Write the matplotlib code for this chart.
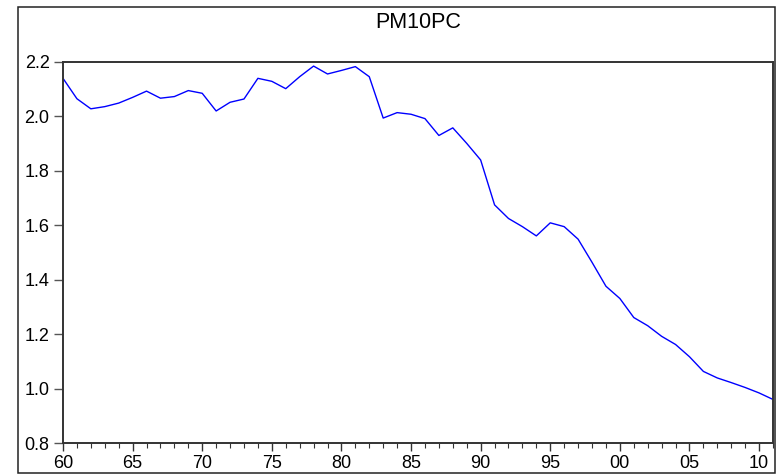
import matplotlib
matplotlib.use("Agg")
import matplotlib.pyplot as plt
from matplotlib.patches import Rectangle
from matplotlib.ticker import MultipleLocator, FixedLocator

plt.rcParams['font.family'] = ['Liberation Sans', 'DejaVu Sans']

years = list(range(1960, 2012))
pm10pc = [2.140, 2.065, 2.028, 2.036, 2.049, 2.070, 2.093, 2.067, 2.073, 2.095,
          2.085, 2.020, 2.052, 2.064, 2.140, 2.129, 2.102, 2.146, 2.185, 2.156,
          2.169, 2.183, 2.146, 1.994, 2.014, 2.008, 1.992, 1.930, 1.958, 1.901,
          1.840, 1.675, 1.625, 1.595, 1.561, 1.609, 1.595, 1.549, 1.464, 1.376,
          1.331, 1.261, 1.231, 1.192, 1.162, 1.117, 1.063, 1.039, 1.022, 1.004,
          0.984, 0.960]
x_tick_years = [1960, 1965, 1970, 1975, 1980, 1985, 1990, 1995, 2000, 2005, 2010]
x_tick_labels = ["60", "65", "70", "75", "80", "85", "90", "95", "00", "05", "10"]
y_ticks = [0.8, 1.0, 1.2, 1.4, 1.6, 1.8, 2.0, 2.2]
title = "PM10PC"

W, H = 776, 475
fig = plt.figure(figsize=(W / 100, H / 100), dpi=100)
left, right, top, bottom = 63, 773, 62, 443
ax = fig.add_axes([left / W, 1 - bottom / H, (right - left) / W, (bottom - top) / H])

ax.plot(years, pm10pc, color="#0000ff", linewidth=1.0)
ax.set_xlim(1960, 2011)
ax.set_ylim(0.8, 2.2)

ax.xaxis.set_major_locator(FixedLocator(x_tick_years))
ax.set_xticklabels(x_tick_labels)
ax.xaxis.set_minor_locator(MultipleLocator(1))
ax.set_yticks(y_ticks)
ax.set_yticklabels([f"{v:.1f}" for v in y_ticks])

ax.tick_params(axis='x', which='major', direction='out', length=5.8, width=1, pad=2.6,
               labelsize=13, color="#333333")
ax.tick_params(axis='x', which='minor', direction='out', length=3.6, width=0.8,
               color="#333333")
ax.tick_params(axis='y', which='major', direction='out', length=6.2, width=1, pad=3.5,
               labelsize=13, color="#555555")
ax.tick_params(top=False, right=False)

for s in ax.spines.values():
    s.set_linewidth(1.4)
    s.set_color("#333333")

fig.text((left + right) / 2 / W, 1 - 28 / H, title, ha='center', va='baseline',
         fontsize=15.5, color="black")

fig.patches.append(Rectangle((18 / W, 1 - 473 / H), (775 - 18) / W, (473 - 7) / H,
                             transform=fig.transFigure, fill=False,
                             edgecolor="#222222", linewidth=1.1))

fig.savefig("out.png", dpi=100)
